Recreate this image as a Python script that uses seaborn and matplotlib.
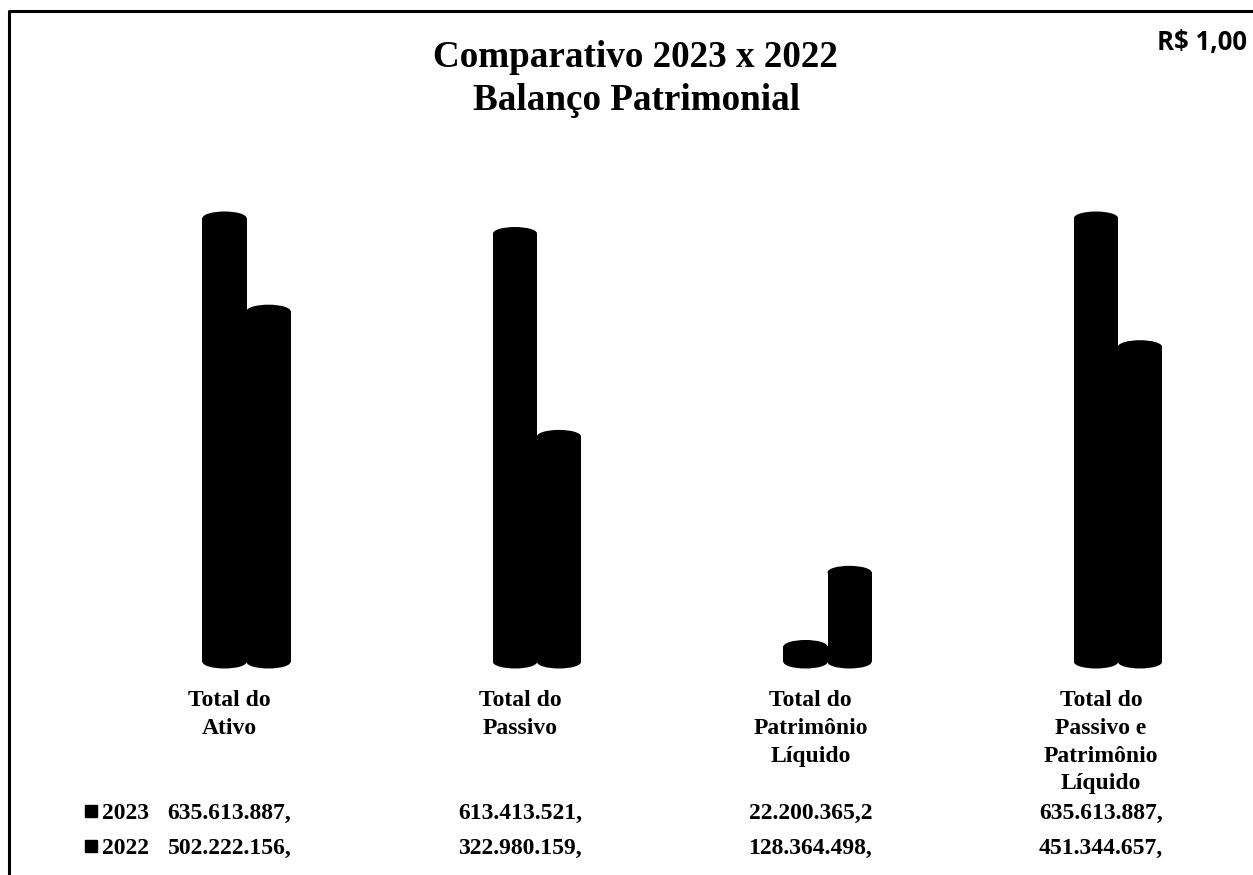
"""Comparativo 2023 x 2022 - cylinder style bars with a data table underneath."""

import matplotlib
matplotlib.use("Agg")
import matplotlib.pyplot as plt
import pandas as pd
import seaborn as sns
from matplotlib.lines import Line2D
from matplotlib.patches import Ellipse

categories = ["Total do\nAtivo", "Total do\nPassivo", "Total do\nPatrimônio\nLíquido",
              "Total do\nPassivo e\nPatrimônio\nLíquido"]
values_2023 = [635613887, 613413521, 22200365.2, 635613887]
values_2022 = [502222156, 322980159, 128364498, 451344657]
labels_2023 = ["635.613.887,", "613.413.521,", "22.200.365,2", "635.613.887,"]
labels_2022 = ["502.222.156,", "322.980.159,", "128.364.498,", "451.344.657,"]
years = ["2023", "2022"]

W, H = 1253, 875
BASE_Y = 662            # pixel row of value 0
PX_PER_VALUE = 444 / 635613887
CAT_0 = 246.5           # pixel column of first category
CAT_STEP = 290.5
SERIF = "Liberation Serif"

sns.set_style("white")
df = pd.DataFrame({
    "cat": categories * 2,
    "year": [years[0]] * 4 + [years[1]] * 4,
    "value": values_2023 + values_2022,
})

fig = plt.figure(figsize=(W / 100, H / 100), dpi=100, facecolor="white")
ax = fig.add_axes([0, 1 - BASE_Y / H, 1, (BASE_Y - 11) / H])
sns.barplot(data=df, x="cat", y="value", hue="year", hue_order=years,
            palette=["black", "black"], width=0.303, gap=0, legend=False,
            saturation=1, linewidth=0, ax=ax)
ax.set_xlim(-CAT_0 / CAT_STEP, (W - CAT_0) / CAT_STEP)
ax.set_ylim(0, (BASE_Y - 11) / PX_PER_VALUE)
ax.axis("off")

# cylinder caps, sized from the bars seaborn drew
cap_h = 13 / PX_PER_VALUE
for bar in list(ax.patches):
    cx = bar.get_x() + bar.get_width() / 2
    for y in (0, bar.get_height()):
        ax.add_patch(Ellipse((cx, y), bar.get_width(), cap_h, facecolor="black",
                             edgecolor="none", clip_on=False))


def put(x, y, s, size=17, ha="center", family=SERIF):
    # y is the text baseline in pixels from the top
    fig.text(x / W, 1 - y / H, s, fontsize=size, ha=ha, va="baseline",
             family=family, fontweight="bold", color="black")


put(635.5, 67, "Comparativo 2023 x 2022", size=26.7)
put(637, 110, "Balanço Patrimonial", size=26.7)
put(1202, 50, "R$ 1,00", size=18.5, family="Open Sans")

line_rows = [706, 734, 762, 789]
for i, cat in enumerate(categories):
    x = CAT_0 + CAT_STEP * i - 17
    for row, line in zip(line_rows, cat.split("\n")):
        put(x, row, line)
    put(x, 819, labels_2023[i])
    put(x, 854, labels_2022[i])

for y, year in zip((819, 854), years):
    put(102, y, year, ha="left")
    fig.add_artist(Line2D([91 / W], [1 - (y - 8) / H], marker="s", markersize=8.4,
                          color="black", linestyle="none"))

# outer frame, open on the right and at the bottom
fig.add_artist(Line2D([9 / W, 9 / W, 1], [0, 1 - 11 / H, 1 - 11 / H], color="black", lw=2.2))

fig.savefig("out.png", dpi=100)
